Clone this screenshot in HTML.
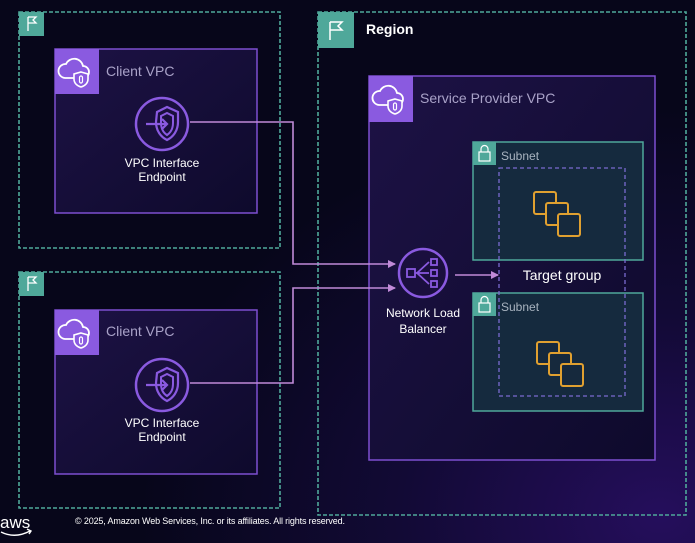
<!DOCTYPE html>
<html><head><meta charset="utf-8"><style>
html,body{margin:0;padding:0;background:#07061a;}
svg{display:block;font-family:"Liberation Sans",sans-serif;}
</style></head><body>
<svg width="695" height="543" viewBox="0 0 695 543" xmlns="http://www.w3.org/2000/svg">
<defs>
<radialGradient id="bg" cx="0.95" cy="0.95" r="0.75">
<stop offset="0" stop-color="#250e5c"/><stop offset="0.5" stop-color="#120a35"/><stop offset="1" stop-color="#07061a"/>
</radialGradient>
<linearGradient id="vpc" x1="0" y1="0" x2="1" y2="1">
<stop offset="0" stop-color="#1d1245"/><stop offset="1" stop-color="#0e0a2c"/>
</linearGradient>
<marker id="ar" markerWidth="8" markerHeight="8" refX="7" refY="4" orient="auto" markerUnits="userSpaceOnUse">
<path d="M0,0 L8,4 L0,8 z" fill="#c08ad8"/>
</marker>
<g id="cloud">
<path d="M-10,6 h18 a6,6 0 0 0 0,-12 a9,9 0 0 0 -17,-2 a6,6 0 0 0 -1,14z" fill="none" stroke="#fff" stroke-width="1.8"/>
<path d="M6,0 l7,2 v5 c0,4 -3,7 -7,8 c-4,-1 -7,-4 -7,-8 v-5z" fill="#8a5ae0" stroke="#fff" stroke-width="1.6"/>
<rect x="4.5" y="4" width="3" height="7" rx="1.5" fill="none" stroke="#fff" stroke-width="1.2"/>
</g>
<g id="ep">
<circle r="26" fill="#1a0f3e" stroke="#8a5ae0" stroke-width="2.5"/>
<path d="M-5,-12 l10,-5 l11,5 v10 c0,9 -5,15 -11,18 c-6,-3 -11,-9 -11,-18z" fill="none" stroke="#8a5ae0" stroke-width="2.2"/>
<path d="M-1,-8 l6,-3 l6,3 v7 c0,6 -3,10 -6,12 c-3,-2 -6,-6 -6,-12z" fill="none" stroke="#8a5ae0" stroke-width="2"/>
<path d="M-16,0 h20 M0,-5 l5,5 l-5,5" fill="none" stroke="#8a5ae0" stroke-width="2.2"/>
</g>
<g id="inst" fill="none" stroke="#e0a030" stroke-width="2">
<rect x="-24" y="-20" width="22" height="22" rx="2" fill="#16293d"/>
<rect x="-12" y="-9" width="22" height="22" rx="2" fill="#16293d"/>
<rect x="0" y="2" width="22" height="22" rx="2" fill="#16293d"/>
</g>
<g id="flag">
<path d="M-4,-7 v14 M-4,-7 h8 l-3,3 l3,3 h-8" fill="none" stroke="#fff" stroke-width="1.3"/>
</g>
</defs>
<rect width="695" height="543" fill="url(#bg)"/>

<rect x="19" y="12" width="261" height="236" fill="none" stroke="#4fa89a" stroke-width="1.6" stroke-dasharray="4,2"/>
<rect x="19" y="12" width="25" height="24" fill="#4fa89a"/><use href="#flag" x="32" y="24"/>
<rect x="19" y="272" width="261" height="236" fill="none" stroke="#4fa89a" stroke-width="1.6" stroke-dasharray="4,2"/>
<rect x="19" y="272" width="25" height="24" fill="#4fa89a"/><use href="#flag" x="32" y="284"/>

<rect x="55" y="49" width="202" height="164" fill="url(#vpc)" stroke="#7d4fd0" stroke-width="1.5"/>
<rect x="55" y="49" width="44" height="45" fill="#8a5ae0"/><use href="#cloud" x="75" y="72"/>
<text x="106" y="76" fill="#a9a2c8" font-size="14">Client VPC</text>
<use href="#ep" x="162" y="124"/>
<text x="162" y="167" fill="#fff" font-size="12" text-anchor="middle">VPC Interface</text>
<text x="162" y="181" fill="#fff" font-size="12" text-anchor="middle">Endpoint</text>

<rect x="55" y="310" width="202" height="164" fill="url(#vpc)" stroke="#7d4fd0" stroke-width="1.5"/>
<rect x="55" y="310" width="44" height="45" fill="#8a5ae0"/><use href="#cloud" x="75" y="333"/>
<text x="106" y="336" fill="#a9a2c8" font-size="14">Client VPC</text>
<use href="#ep" x="162" y="385"/>
<text x="162" y="427" fill="#fff" font-size="12" text-anchor="middle">VPC Interface</text>
<text x="162" y="441" fill="#fff" font-size="12" text-anchor="middle">Endpoint</text>

<rect x="318" y="12" width="368" height="503" fill="none" stroke="#4fa89a" stroke-width="1.6" stroke-dasharray="4,2"/>
<rect x="318" y="12" width="36" height="36" fill="#4fa89a"/>
<path d="M330,22 v18 M330,22 h12 l-4,4 l4,4 h-12" fill="none" stroke="#fff" stroke-width="1.5"/>
<text x="366" y="34" fill="#fff" font-size="14" font-weight="bold">Region</text>

<rect x="369" y="76" width="286" height="384" fill="url(#vpc)" stroke="#7d4fd0" stroke-width="1.5"/>
<rect x="369" y="76" width="44" height="46" fill="#8a5ae0"/><use href="#cloud" x="389" y="99"/>
<text x="420" y="103" fill="#a9a2c8" font-size="14">Service Provider VPC</text>

<rect x="473" y="142" width="170" height="118" fill="#152a3e" stroke="#4fa89a" stroke-width="1.5"/>
<rect x="473" y="142" width="23" height="23" fill="#4fa89a"/>
<rect x="479" y="152" width="11" height="9" fill="none" stroke="#fff" stroke-width="1.2"/><path d="M481,152 v-3 a3,3 0 0 1 7,0 v3" fill="none" stroke="#fff" stroke-width="1.2"/>
<text x="501" y="160" fill="#a9b4c0" font-size="12">Subnet</text>
<rect x="473" y="293" width="170" height="118" fill="#152a3e" stroke="#4fa89a" stroke-width="1.5"/>
<rect x="473" y="293" width="23" height="23" fill="#4fa89a"/>
<rect x="479" y="303" width="11" height="9" fill="none" stroke="#fff" stroke-width="1.2"/><path d="M481,303 v-3 a3,3 0 0 1 7,0 v3" fill="none" stroke="#fff" stroke-width="1.2"/>
<text x="501" y="311" fill="#a9b4c0" font-size="12">Subnet</text>

<rect x="499" y="168" width="126" height="228" fill="none" stroke="#7a6ad0" stroke-width="1.3" stroke-dasharray="4,3"/>
<use href="#inst" x="558" y="212"/>
<use href="#inst" x="561" y="362"/>
<text x="562" y="280" fill="#fff" font-size="14" text-anchor="middle">Target group</text>

<circle cx="423" cy="273" r="24" fill="#1a0f3e" stroke="#8a5ae0" stroke-width="2.5"/>
<g fill="none" stroke="#8a5ae0" stroke-width="1.8">
<rect x="407" y="269" width="8" height="8"/>
<rect x="431" y="259" width="6" height="6"/><rect x="431" y="270" width="6" height="6"/><rect x="431" y="281" width="6" height="6"/>
<path d="M415,273 h14 M417,273 l12,-11 M417,273 l12,11"/>
</g>
<text x="423" y="317" fill="#fff" font-size="12" text-anchor="middle">Network Load</text>
<text x="423" y="333" fill="#fff" font-size="12" text-anchor="middle">Balancer</text>

<g fill="none" stroke="#c08ad8" stroke-width="1.6">
<path d="M190,122 H293 V264 H395" marker-end="url(#ar)"/>
<path d="M190,383 H293 V288 H395" marker-end="url(#ar)"/>
<path d="M455,275 H498" marker-end="url(#ar)"/>
</g>

<text x="0" y="528" fill="#fff" font-size="17">aws</text>
<path d="M1,532 q14,7 29,-1 M27,529 l4,2 l-2,3" fill="none" stroke="#fff" stroke-width="1.4"/>
<text x="75" y="524" fill="#fff" font-size="9" textLength="270">© 2025, Amazon Web Services, Inc. or its affiliates. All rights reserved.</text>
</svg>
</body></html>
